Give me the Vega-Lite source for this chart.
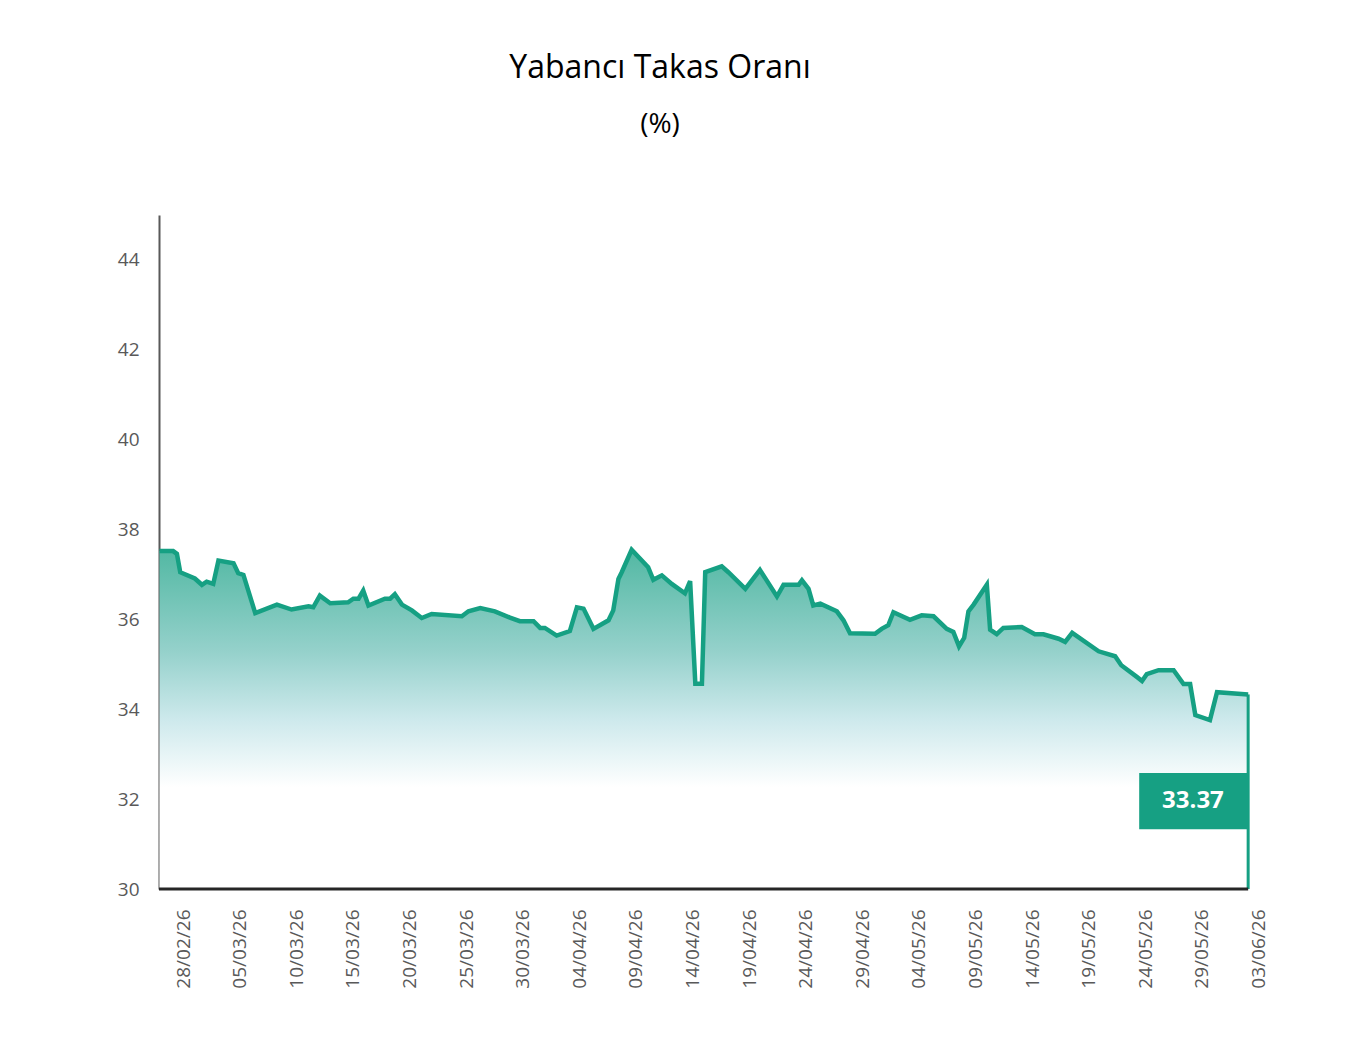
{
  "$schema": "https://vega.github.io/schema/vega-lite/v6.json",
  "width": 1100,
  "height": 674,
  "autosize": {"type": "none"},
  "padding": {"left": 159, "top": 215, "right": 112, "bottom": 158},
  "background": "white",
  "title": {
    "text": "Yabancı Takas Oranı",
    "subtitle": "(%)",
    "anchor": "middle",
    "dx": -49,
    "offset": 75,
    "font": "Open Sans",
    "fontSize": 32,
    "fontWeight": "normal",
    "color": "#000000",
    "subtitleFont": "Open Sans",
    "subtitleFontSize": 28,
    "subtitleColor": "#000000",
    "subtitlePadding": 26
  },
  "config": {
    "view": {"stroke": null},
    "axis": {"labelFont": "Open Sans", "labelColor": "#595959", "grid": false, "ticks": false, "title": null}
  },
  "datasets": {
    "series": [
      {"date": "2026-02-25T22:00", "value": 37.52},
      {"date": "2026-02-27T03:00", "value": 37.52},
      {"date": "2026-02-27T11:00", "value": 37.46},
      {"date": "2026-02-27T18:00", "value": 37.05},
      {"date": "2026-03-01T01:00", "value": 36.91},
      {"date": "2026-03-01T16:00", "value": 36.77},
      {"date": "2026-03-02T02:00", "value": 36.84},
      {"date": "2026-03-02T16:00", "value": 36.79},
      {"date": "2026-03-03T03:00", "value": 37.31},
      {"date": "2026-03-04T11:00", "value": 37.25},
      {"date": "2026-03-04T21:00", "value": 37.03},
      {"date": "2026-03-05T08:00", "value": 36.99},
      {"date": "2026-03-06T09:00", "value": 36.14},
      {"date": "2026-03-08T07:00", "value": 36.33},
      {"date": "2026-03-09T14:00", "value": 36.22},
      {"date": "2026-03-11T02:00", "value": 36.29},
      {"date": "2026-03-11T12:00", "value": 36.27},
      {"date": "2026-03-12T02:00", "value": 36.53},
      {"date": "2026-03-13T00:00", "value": 36.36},
      {"date": "2026-03-14T14:00", "value": 36.38},
      {"date": "2026-03-15T01:00", "value": 36.46},
      {"date": "2026-03-15T12:00", "value": 36.46},
      {"date": "2026-03-15T22:00", "value": 36.64},
      {"date": "2026-03-16T09:00", "value": 36.31},
      {"date": "2026-03-17T20:00", "value": 36.46},
      {"date": "2026-03-18T07:00", "value": 36.46},
      {"date": "2026-03-18T17:00", "value": 36.56},
      {"date": "2026-03-19T08:00", "value": 36.33},
      {"date": "2026-03-20T05:00", "value": 36.2},
      {"date": "2026-03-21T02:00", "value": 36.03},
      {"date": "2026-03-21T23:00", "value": 36.12},
      {"date": "2026-03-24T15:00", "value": 36.07},
      {"date": "2026-03-25T05:00", "value": 36.18},
      {"date": "2026-03-26T06:00", "value": 36.25},
      {"date": "2026-03-27T13:00", "value": 36.18},
      {"date": "2026-03-28T21:00", "value": 36.04},
      {"date": "2026-03-29T18:00", "value": 35.96},
      {"date": "2026-03-30T23:00", "value": 35.96},
      {"date": "2026-03-31T13:00", "value": 35.81},
      {"date": "2026-03-31T23:00", "value": 35.81},
      {"date": "2026-04-02T00:00", "value": 35.64},
      {"date": "2026-04-03T04:00", "value": 35.74},
      {"date": "2026-04-03T19:00", "value": 36.27},
      {"date": "2026-04-04T09:00", "value": 36.24},
      {"date": "2026-04-05T06:00", "value": 35.79},
      {"date": "2026-04-06T14:00", "value": 35.98},
      {"date": "2026-04-07T00:00", "value": 36.2},
      {"date": "2026-04-07T11:00", "value": 36.9},
      {"date": "2026-04-07T18:00", "value": 37.05},
      {"date": "2026-04-08T15:00", "value": 37.55},
      {"date": "2026-04-10T02:00", "value": 37.16},
      {"date": "2026-04-10T13:00", "value": 36.88},
      {"date": "2026-04-11T07:00", "value": 36.98},
      {"date": "2026-04-12T04:00", "value": 36.79},
      {"date": "2026-04-13T08:00", "value": 36.58},
      {"date": "2026-04-13T19:00", "value": 36.85},
      {"date": "2026-04-14T06:00", "value": 34.57},
      {"date": "2026-04-14T20:00", "value": 34.57},
      {"date": "2026-04-15T03:00", "value": 37.05},
      {"date": "2026-04-16T14:00", "value": 37.18},
      {"date": "2026-04-17T04:00", "value": 37.05},
      {"date": "2026-04-18T16:00", "value": 36.68},
      {"date": "2026-04-19T23:00", "value": 37.1},
      {"date": "2026-04-21T11:00", "value": 36.51},
      {"date": "2026-04-22T01:00", "value": 36.77},
      {"date": "2026-04-23T09:00", "value": 36.77},
      {"date": "2026-04-23T16:00", "value": 36.87},
      {"date": "2026-04-24T06:00", "value": 36.68},
      {"date": "2026-04-24T16:00", "value": 36.31},
      {"date": "2026-04-25T07:00", "value": 36.35},
      {"date": "2026-04-26T18:00", "value": 36.18},
      {"date": "2026-04-27T08:00", "value": 35.98},
      {"date": "2026-04-27T22:00", "value": 35.69},
      {"date": "2026-04-30T03:00", "value": 35.68},
      {"date": "2026-04-30T17:00", "value": 35.79},
      {"date": "2026-05-01T07:00", "value": 35.87},
      {"date": "2026-05-01T18:00", "value": 36.16},
      {"date": "2026-05-03T05:00", "value": 35.99},
      {"date": "2026-05-04T06:00", "value": 36.09},
      {"date": "2026-05-05T07:00", "value": 36.07},
      {"date": "2026-05-06T11:00", "value": 35.79},
      {"date": "2026-05-07T01:00", "value": 35.72},
      {"date": "2026-05-07T13:00", "value": 35.4},
      {"date": "2026-05-08T00:00", "value": 35.59},
      {"date": "2026-05-08T09:00", "value": 36.18},
      {"date": "2026-05-08T20:00", "value": 36.33},
      {"date": "2026-05-10T00:00", "value": 36.77},
      {"date": "2026-05-10T07:00", "value": 35.77},
      {"date": "2026-05-10T21:00", "value": 35.67},
      {"date": "2026-05-11T11:00", "value": 35.81},
      {"date": "2026-05-13T02:00", "value": 35.83},
      {"date": "2026-05-14T06:00", "value": 35.67},
      {"date": "2026-05-15T00:00", "value": 35.67},
      {"date": "2026-05-16T08:00", "value": 35.57},
      {"date": "2026-05-16T22:00", "value": 35.5},
      {"date": "2026-05-17T13:00", "value": 35.7},
      {"date": "2026-05-19T21:00", "value": 35.29},
      {"date": "2026-05-21T08:00", "value": 35.18},
      {"date": "2026-05-21T21:00", "value": 34.98},
      {"date": "2026-05-23T06:00", "value": 34.72},
      {"date": "2026-05-23T17:00", "value": 34.63},
      {"date": "2026-05-24T03:00", "value": 34.78},
      {"date": "2026-05-25T04:00", "value": 34.87},
      {"date": "2026-05-26T12:00", "value": 34.87},
      {"date": "2026-05-27T09:00", "value": 34.56},
      {"date": "2026-05-27T23:00", "value": 34.56},
      {"date": "2026-05-28T10:00", "value": 33.87},
      {"date": "2026-05-29T17:00", "value": 33.76},
      {"date": "2026-05-30T08:00", "value": 34.38},
      {"date": "2026-06-02T02:00", "value": 34.33}
    ],
    "baseline": [{"start": "2026-02-25T21:00", "end": "2026-06-02T02:00", "value": 30}],
    "endline": [{"date": "2026-06-02T02:00", "low": 30, "high": 34.33}],
    "badge": [{"start": "2026-05-23T11:00", "end": "2026-06-02T02:00", "mid": "2026-05-28T05:00", "low": 31.33, "high": 32.58, "center": 31.95, "label": "33.37"}]
  },
  "layer": [
    {
      "data": {"name": "series"},
      "mark": {
        "type": "area",
        "fill": {
          "gradient": "linear",
          "x1": 0, "y1": 0, "x2": 0, "y2": 1,
          "stops": [
            {"offset": 0, "color": "#52b8a3"},
            {"offset": 0.3, "color": "#95d1cb"},
            {"offset": 0.5, "color": "#cde9ec"},
            {"offset": 0.7, "color": "#ffffff"},
            {"offset": 1, "color": "#ffffff"}
          ]
        }
      },
      "encoding": {
        "x": {
          "field": "date", "type": "temporal",
          "scale": {"domain": [{"year": 2026, "month": 2, "date": 25, "hours": 21}, {"year": 2026, "month": 6, "date": 3, "hours": 1}]},
          "axis": {
            "values": [
              {"year": 2026, "month": 2, "date": 28},
              {"year": 2026, "month": 3, "date": 5},
              {"year": 2026, "month": 3, "date": 10},
              {"year": 2026, "month": 3, "date": 15},
              {"year": 2026, "month": 3, "date": 20},
              {"year": 2026, "month": 3, "date": 25},
              {"year": 2026, "month": 3, "date": 30},
              {"year": 2026, "month": 4, "date": 4},
              {"year": 2026, "month": 4, "date": 9},
              {"year": 2026, "month": 4, "date": 14},
              {"year": 2026, "month": 4, "date": 19},
              {"year": 2026, "month": 4, "date": 24},
              {"year": 2026, "month": 4, "date": 29},
              {"year": 2026, "month": 5, "date": 4},
              {"year": 2026, "month": 5, "date": 9},
              {"year": 2026, "month": 5, "date": 14},
              {"year": 2026, "month": 5, "date": 19},
              {"year": 2026, "month": 5, "date": 24},
              {"year": 2026, "month": 5, "date": 29},
              {"year": 2026, "month": 6, "date": 3}
            ],
            "format": "%d/%m/%y",
            "labelAngle": -90,
            "labelAlign": "right",
            "labelBaseline": "middle",
            "labelFontSize": 19,
            "labelPadding": 20,
            "labelOverlap": false,
            "labelBound": false,
            "labelFlush": false,
            "domain": false
          }
        },
        "y": {
          "field": "value", "type": "quantitative",
          "scale": {"domain": [30, 45], "zero": false, "nice": false},
          "axis": {
            "values": [30, 32, 34, 36, 38, 40, 42, 44],
            "labelFontSize": 19,
            "labelPadding": 20,
            "domain": true,
            "domainColor": "#595959",
            "domainWidth": 2
          }
        },
        "y2": {"datum": 30}
      }
    },
    {
      "data": {"name": "series"},
      "mark": {"type": "line", "color": "#16a083", "strokeWidth": 4.5},
      "encoding": {
        "x": {"field": "date", "type": "temporal"},
        "y": {"field": "value", "type": "quantitative"}
      }
    },
    {
      "data": {"name": "endline"},
      "mark": {"type": "rule", "color": "#16a083", "strokeWidth": 3},
      "encoding": {
        "x": {"field": "date", "type": "temporal"},
        "y": {"field": "low", "type": "quantitative"},
        "y2": {"field": "high"}
      }
    },
    {
      "data": {"name": "baseline"},
      "mark": {"type": "rule", "color": "#262626", "strokeWidth": 3},
      "encoding": {
        "x": {"field": "start", "type": "temporal"},
        "x2": {"field": "end"},
        "y": {"field": "value", "type": "quantitative"}
      }
    },
    {
      "data": {"name": "badge"},
      "mark": {"type": "rect", "color": "#16a083"},
      "encoding": {
        "x": {"field": "start", "type": "temporal"},
        "x2": {"field": "end"},
        "y": {"field": "low", "type": "quantitative"},
        "y2": {"field": "high"}
      }
    },
    {
      "data": {"name": "badge"},
      "mark": {"type": "text", "color": "white", "font": "Open Sans", "fontWeight": "bold", "fontSize": 24, "align": "center", "baseline": "middle"},
      "encoding": {
        "x": {"field": "mid", "type": "temporal"},
        "y": {"field": "center", "type": "quantitative"},
        "text": {"field": "label"}
      }
    }
  ]
}
